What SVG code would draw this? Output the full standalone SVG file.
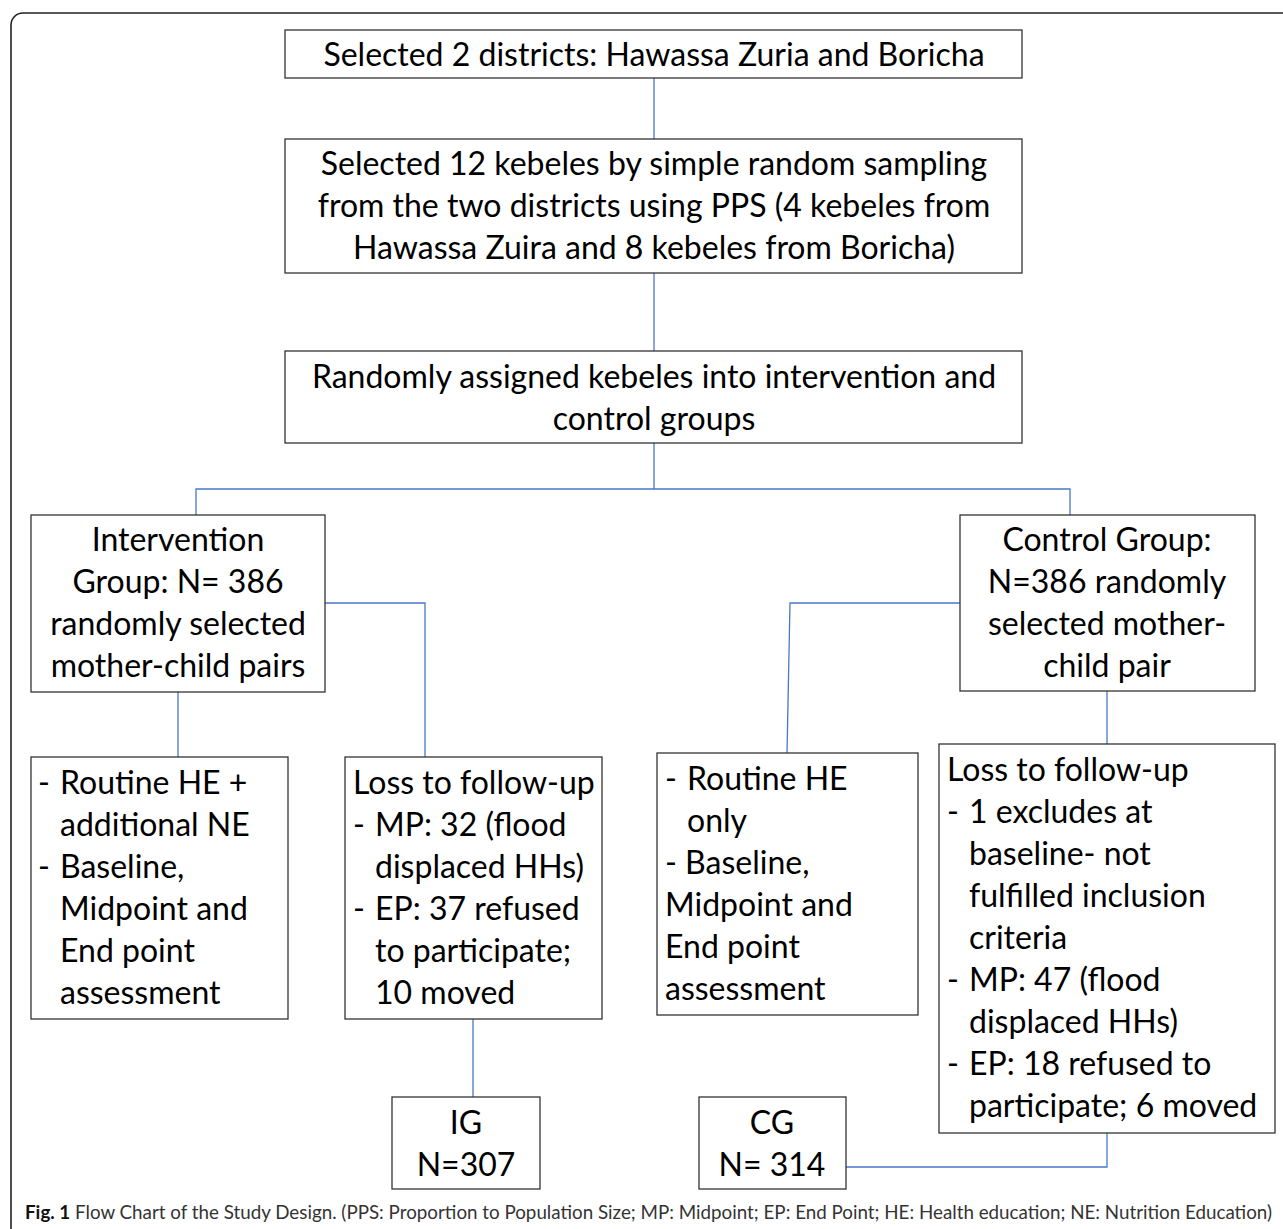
<svg xmlns="http://www.w3.org/2000/svg" width="1283" height="1229" viewBox="0 0 1283 1229">
<style>
.box{fill:#fff;stroke:#333;stroke-width:1.3}
.t{font-family:Lato,"Open Sans","Liberation Sans",sans-serif;font-size:32px;fill:#000}
.c{text-anchor:middle}
.con{fill:none;stroke:#4a78c8;stroke-width:1.3}
.cap{font-family:Lato,"Liberation Sans",sans-serif;font-size:19px;fill:#333}
</style>
<rect x="11" y="13" width="1300" height="1260" rx="12" fill="#fff" stroke="#222" stroke-width="1.6"/>
<g id="connectors">
<path class="con" d="M654 78V139M654 273V351M654 443V489M196 515V489H1070V515"/>
<path class="con" d="M325 603H425V757"/>
<path class="con" d="M178 692V757"/>
<path class="con" d="M960 603H790L787 753"/>
<path class="con" d="M1107 691V744"/>
<path class="con" d="M473 1019V1097"/>
<path class="con" d="M846 1167H1107V1133"/>
</g>
<g id="n1"><rect class="box" x="285" y="30" width="737" height="48"/>
<text class="t c" x="654" y="66">Selected 2 districts: Hawassa Zuria and Boricha</text></g>
<g id="n2"><rect class="box" x="285" y="139" width="737" height="134"/>
<text class="t c" x="654" y="175">Selected 12 kebeles by simple random sampling</text>
<text class="t c" x="654" y="217">from the two districts using PPS (4 kebeles from</text>
<text class="t c" x="654" y="259">Hawassa Zuira and 8 kebeles from Boricha)</text></g>
<g id="n3"><rect class="box" x="285" y="351" width="737" height="92"/>
<text class="t c" x="654" y="388">Randomly assigned kebeles into intervention and</text>
<text class="t c" x="654" y="430">control groups</text></g>
<g id="n4"><rect class="box" x="31" y="515" width="294" height="177"/>
<text class="t c" x="178" y="551">Intervention</text>
<text class="t c" x="178" y="593">Group: N= 386</text>
<text class="t c" x="178" y="635">randomly selected</text>
<text class="t c" x="178" y="677">mother-child pairs</text></g>
<g id="n5"><rect class="box" x="960" y="515" width="295" height="176"/>
<text class="t c" x="1107" y="551">Control Group:</text>
<text class="t c" x="1107" y="593">N=386 randomly</text>
<text class="t c" x="1107" y="635">selected mother-</text>
<text class="t c" x="1107" y="677">child pair</text></g>
<g id="n6"><rect class="box" x="31" y="757" width="257" height="262"/>
<text class="t" x="38" y="794">-</text><text class="t" x="60" y="794">Routine HE +</text>
<text class="t" x="60" y="836">additional NE</text>
<text class="t" x="38" y="878">-</text><text class="t" x="60" y="878">Baseline,</text>
<text class="t" x="60" y="920">Midpoint and</text>
<text class="t" x="60" y="962">End point</text>
<text class="t" x="60" y="1004">assessment</text></g>
<g id="n7"><rect class="box" x="345" y="757" width="257" height="262"/>
<text class="t" x="353" y="794">Loss to follow-up</text>
<text class="t" x="353" y="836">-</text><text class="t" x="375" y="836">MP: 32 (flood</text>
<text class="t" x="375" y="878">displaced HHs)</text>
<text class="t" x="353" y="920">-</text><text class="t" x="375" y="920">EP: 37 refused</text>
<text class="t" x="375" y="962">to participate;</text>
<text class="t" x="375" y="1004">10 moved</text></g>
<g id="n8"><rect class="box" x="657" y="753" width="261" height="262"/>
<text class="t" x="665" y="790">-</text><text class="t" x="687" y="790">Routine HE</text>
<text class="t" x="687" y="832">only</text>
<text class="t" x="665" y="874">- Baseline,</text>
<text class="t" x="665" y="916">Midpoint and</text>
<text class="t" x="665" y="958">End point</text>
<text class="t" x="665" y="1000">assessment</text></g>
<g id="n9"><rect class="box" x="939" y="744" width="336" height="389"/>
<text class="t" x="947" y="781">Loss to follow-up</text>
<text class="t" x="947" y="823">-</text><text class="t" x="969" y="823">1 excludes at</text>
<text class="t" x="969" y="865">baseline- not</text>
<text class="t" x="969" y="907">fulfilled inclusion</text>
<text class="t" x="969" y="949">criteria</text>
<text class="t" x="947" y="991">-</text><text class="t" x="969" y="991">MP: 47 (flood</text>
<text class="t" x="969" y="1033">displaced HHs)</text>
<text class="t" x="947" y="1075">-</text><text class="t" x="969" y="1075">EP: 18 refused to</text>
<text class="t" x="969" y="1117">participate; 6 moved</text></g>
<g id="n10"><rect class="box" x="392" y="1097" width="148" height="92"/>
<text class="t c" x="466" y="1134">IG</text>
<text class="t c" x="466" y="1176">N=307</text></g>
<g id="n11"><rect class="box" x="699" y="1097" width="147" height="92"/>
<text class="t c" x="772" y="1134">CG</text>
<text class="t c" x="772" y="1176">N= 314</text></g>
<text class="cap" x="25" y="1219" textLength="1247" lengthAdjust="spacingAndGlyphs"><tspan font-weight="bold" fill="#111">Fig. 1</tspan> Flow Chart of the Study Design. (PPS: Proportion to Population Size; MP: Midpoint; EP: End Point; HE: Health education; NE: Nutrition Education)</text>
</svg>
